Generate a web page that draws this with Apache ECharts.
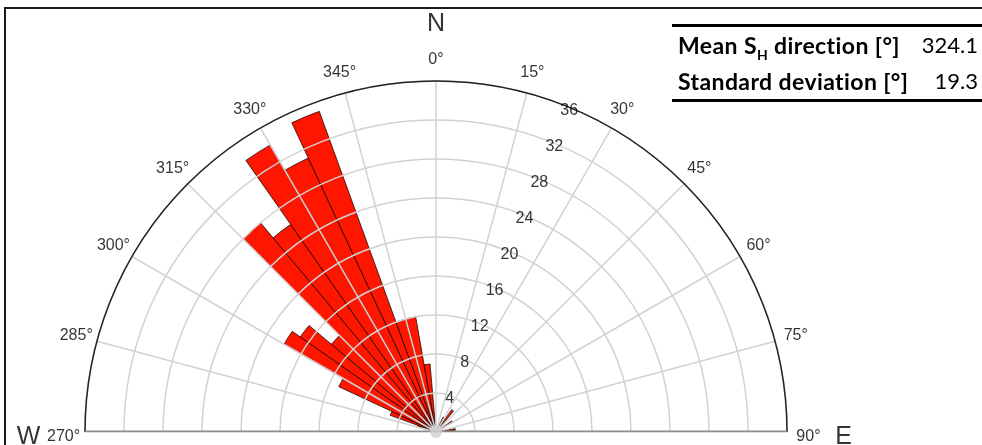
<!DOCTYPE html>
<html>
<head>
<meta charset="utf-8">
<script src="https://cdn.jsdelivr.net/npm/echarts@6/dist/echarts.min.js"></script>
<style>
  html, body { margin: 0; padding: 0; background: #fff; }
  #wrap { position: relative; width: 982px; height: 445px; overflow: hidden; }
  #chart { position: absolute; left: 0; top: 0; width: 982px; height: 445px; }
  #frame { position: absolute; left: 4px; top: 7px; width: 990px; height: 450px;
           border-left: 2px solid #1a1a1a; border-top: 2px solid #1a1a1a; pointer-events: none; }
  #stats { position: absolute; left: 672px; top: 24px; width: 330px;
           border-top: 3px solid #000; border-bottom: 3px solid #000;
           font-family: Lato, "Open Sans", sans-serif; font-size: 23px; color: #000; }
  #stats .row { position: relative; height: 36px; line-height: 36px; }
  #stats .k { position: absolute; left: 6px; font-weight: bold; letter-spacing: 0.4px; }
  #stats .v { position: absolute; right: 24px; font-size: 22px; }
  #stats sub { font-size: 14px; vertical-align: -6px; line-height: 0; }
</style>
</head>
<body>
<div id="wrap">
  <div id="chart"></div>
  <div id="frame"></div>
  <div id="stats"></div>
</div>
<script>
// ---- data ----
const binStart = [270,275,280,285,290,295,300,305,310,315,320,325,330,335,340,345,350,355,
                  0,5,10,15,20,25,30,35,40,45,50,55,60,65,70,75,80,85];
const counts   = [0,0,0,2,5,11,18,17,14,28,26,34,31,35,12,12,7,0,
                  0,0,0,0,0,1.7,0,2.8,0,0,0,2,0,0,0,0,2,0];
const angleTicks  = [270,285,300,315,330,345,0,15,30,45,60,75,90];
const radiusTicks = [4,8,12,16,20,24,28,32,36];
const compassNames = ['W','N','E'];
const compassAngles = [270,0,90];
const statNames  = ['Mean S<sub>H</sub> direction [°]', 'Standard deviation [°]'];
const statValues = ['324.1', '19.3'];

// ---- stats table ----
document.getElementById('stats').innerHTML = statNames.map((n, i) =>
  '<div class="row"><span class="k">' + n + '</span><span class="v">' + statValues[i] + '</span></div>'
).join('');

// ---- chart ----
const toAxis = a => (a >= 270 ? a - 360 : a);
const CENTER = [436, 432];
const R = 351;
const FONT = '"Liberation Sans", Arial, sans-serif';

const chart = echarts.init(document.getElementById('chart'), null, { renderer: 'canvas' });

const polarBase = { center: CENTER, radius: [0, R] };

const option = {
  animation: false,
  backgroundColor: '#fff',
  polar: [ Object.assign({}, polarBase), Object.assign({}, polarBase) ],
  angleAxis: [
    {
      polarIndex: 0, type: 'category', data: binStart.map(String),
      startAngle: 180, endAngle: 0, clockwise: true,
      axisLine: { show: false }, axisTick: { show: false }, axisLabel: { show: false },
      splitLine: { show: false }
    },
    {
      polarIndex: 1, type: 'value', min: -90, max: 90, interval: 15,
      startAngle: 180, endAngle: 0, clockwise: true, z: 5,
      axisLine: { show: true, lineStyle: { color: '#222', width: 1.5 } },
      axisTick: { show: false }, axisLabel: { show: false },
      splitLine: { show: true, lineStyle: { color: '#d2d2d2', width: 1.5 } }
    }
  ],
  radiusAxis: [
    {
      polarIndex: 0, type: 'value', min: 0, max: 36,
      axisLine: { show: false }, axisTick: { show: false }, axisLabel: { show: false },
      splitLine: { show: false }
    },
    {
      polarIndex: 1, type: 'value', min: 0, max: 36, interval: 4, z: 5,
      axisLine: { show: false }, axisTick: { show: false }, axisLabel: { show: false },
      splitLine: { show: true, lineStyle: { color: '#d2d2d2', width: 1.5 } }
    }
  ],
  series: [
    {
      type: 'bar', coordinateSystem: 'polar', polarIndex: 0,
      data: counts, barCategoryGap: '0%', barGap: '0%', z: 2,
      itemStyle: { color: '#ff1600', borderColor: '#000', borderWidth: 0.7 }
    },
    {
      // base diameter line W-E
      type: 'line', coordinateSystem: 'polar', polarIndex: 1, z: 6,
      data: [[36, toAxis(270)], [36, toAxis(90)]],
      symbol: 'none', silent: true,
      lineStyle: { color: '#8c8c8c', width: 3 }
    },
    {
      // centre hub
      type: 'scatter', coordinateSystem: 'polar', polarIndex: 1, z: 7, silent: true,
      data: [[0, 0]], symbolSize: 12,
      itemStyle: { color: '#cfcfcf' }
    },
    {
      // angle tick labels
      type: 'scatter', coordinateSystem: 'polar', polarIndex: 1, z: 8, clip: false, silent: true,
      symbolSize: 1, itemStyle: { color: 'rgba(0,0,0,0)' },
      data: angleTicks.map(a => ({
        name: a + '°', value: [38.2, toAxis(a)],
        label: (a === 270 || a === 90) ? { offset: [0, 5] } : {}
      })),
      label: { show: true, position: 'inside', formatter: '{b}', color: '#000',
               fontFamily: FONT, fontSize: 16 }
    },
    {
      // compass letters
      type: 'scatter', coordinateSystem: 'polar', polarIndex: 1, z: 8, clip: false, silent: true,
      symbolSize: 1, itemStyle: { color: 'rgba(0,0,0,0)' },
      data: compassNames.map((n, i) => ({
        name: n, value: [41.8, toAxis(compassAngles[i])],
        label: compassAngles[i] === 0 ? {} : { offset: [0, 5] }
      })),
      label: { show: true, position: 'inside', formatter: '{b}', color: '#000',
               fontFamily: FONT, fontSize: 25 }
    },
    {
      // radius tick labels
      type: 'scatter', coordinateSystem: 'polar', polarIndex: 1, z: 8, clip: false, silent: true,
      symbolSize: 1, itemStyle: { color: 'rgba(0,0,0,0)' },
      data: radiusTicks.map(v => ({ name: String(v), value: [v - 0.3, 22.5] })),
      label: { show: true, position: 'inside', formatter: '{b}', color: '#000',
               fontFamily: FONT, fontSize: 16 }
    }
  ]
};

chart.setOption(option);
</script>
</body>
</html>
